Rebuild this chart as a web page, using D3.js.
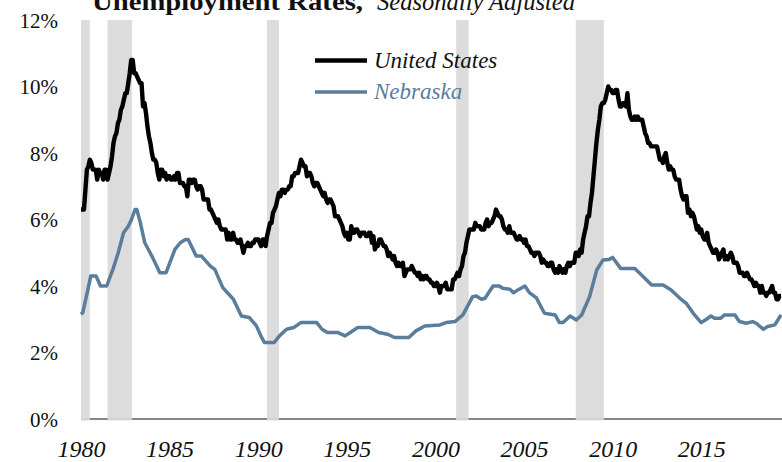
<!DOCTYPE html>
<html>
<head>
<meta charset="utf-8">
<script src="https://cdn.jsdelivr.net/npm/d3@7"></script>
<style>
  html, body { margin: 0; padding: 0; background: #fff; }
  svg { display: block; }
  svg text { font-family: "Liberation Serif", "Times New Roman", serif !important; }
</style>
</head>
<body>
<svg id="chart" width="782" height="462"></svg>
<script>
// ---------------- DATA ----------------
const titleBold = "Unemployment Rates,";
const titleItalic = "Seasonally Adjusted";
const seriesNames = ["United States", "Nebraska"];

// US monthly unemployment rate, Jan 1980 onward (seasonally adjusted, %)
const usStartYear = 1980;
const usRate = [
  6.3,6.3,6.3,6.9,7.5,7.6,7.8,7.7,7.5,7.5,7.5,7.2,
  7.5,7.4,7.4,7.2,7.5,7.5,7.2,7.4,7.6,7.9,8.3,8.5,
  8.6,8.9,9.0,9.3,9.4,9.6,9.8,9.8,10.1,10.4,10.8,10.8,
  10.4,10.4,10.3,10.2,10.1,10.1,9.4,9.5,9.2,8.8,8.5,8.3,
  8.0,7.8,7.8,7.7,7.4,7.2,7.5,7.5,7.3,7.4,7.2,7.3,
  7.3,7.2,7.2,7.3,7.2,7.4,7.4,7.1,7.1,7.1,7.0,7.0,
  6.7,7.2,7.2,7.1,7.2,7.2,7.0,6.9,7.0,7.0,6.9,6.6,
  6.6,6.6,6.6,6.3,6.3,6.2,6.1,6.0,5.9,6.0,5.8,5.7,
  5.7,5.7,5.7,5.4,5.6,5.4,5.4,5.6,5.4,5.4,5.3,5.3,
  5.4,5.2,5.0,5.2,5.2,5.3,5.2,5.2,5.3,5.3,5.4,5.4,
  5.4,5.3,5.2,5.4,5.4,5.2,5.5,5.7,5.9,5.9,6.2,6.3,
  6.4,6.6,6.8,6.7,6.9,6.9,6.8,6.9,6.9,7.0,7.0,7.3,
  7.3,7.4,7.4,7.4,7.6,7.8,7.7,7.6,7.6,7.3,7.4,7.4,
  7.3,7.1,7.0,7.1,7.1,7.0,6.9,6.8,6.7,6.8,6.6,6.5,
  6.6,6.6,6.5,6.4,6.1,6.1,6.1,6.0,5.9,5.8,5.6,5.5,
  5.6,5.4,5.4,5.8,5.6,5.6,5.7,5.7,5.6,5.5,5.6,5.6,
  5.6,5.5,5.5,5.6,5.6,5.3,5.5,5.1,5.2,5.2,5.4,5.4,
  5.3,5.2,5.2,5.1,4.9,5.0,4.9,4.8,4.9,4.7,4.6,4.7,
  4.6,4.6,4.7,4.3,4.4,4.5,4.5,4.5,4.6,4.5,4.4,4.4,
  4.3,4.4,4.2,4.3,4.2,4.3,4.3,4.2,4.2,4.1,4.1,4.0,
  4.0,4.1,4.0,3.8,4.0,4.0,4.0,4.1,3.9,3.9,3.9,3.9,
  4.2,4.2,4.3,4.4,4.3,4.5,4.6,4.9,5.0,5.3,5.5,5.7,
  5.7,5.7,5.7,5.9,5.8,5.8,5.8,5.7,5.7,5.7,5.9,6.0,
  5.8,5.9,5.9,6.0,6.1,6.3,6.2,6.1,6.1,6.0,5.8,5.7,
  5.7,5.6,5.8,5.6,5.6,5.6,5.5,5.4,5.4,5.5,5.4,5.4,
  5.3,5.4,5.2,5.2,5.1,5.0,5.0,4.9,5.0,5.0,5.0,4.9,
  4.7,4.8,4.7,4.7,4.6,4.6,4.7,4.7,4.5,4.4,4.5,4.4,
  4.6,4.5,4.4,4.5,4.4,4.6,4.7,4.6,4.7,4.7,4.7,5.0,
  5.0,4.9,5.1,5.0,5.4,5.6,5.8,6.1,6.1,6.5,6.8,7.3,
  7.8,8.3,8.7,9.0,9.4,9.5,9.5,9.6,9.8,10.0,9.9,9.9,
  9.8,9.8,9.9,9.9,9.6,9.4,9.4,9.5,9.5,9.4,9.8,9.3,
  9.1,9.0,9.0,9.1,9.0,9.1,9.0,9.0,9.0,8.8,8.6,8.5,
  8.3,8.3,8.2,8.2,8.2,8.2,8.2,8.0,7.8,7.8,7.7,7.9,
  8.0,7.7,7.5,7.6,7.5,7.5,7.3,7.2,7.2,7.2,6.9,6.7,
  6.6,6.7,6.7,6.2,6.3,6.1,6.2,6.1,5.9,5.7,5.8,5.6,
  5.7,5.5,5.4,5.4,5.6,5.3,5.2,5.1,5.0,5.0,5.1,5.0,
  4.8,4.9,5.0,5.1,4.8,4.9,4.8,4.9,5.0,4.9,4.7,4.7,
  4.7,4.6,4.4,4.4,4.4,4.3,4.3,4.4,4.3,4.2,4.2,4.1,
  4.0,4.1,4.0,4.0,3.8,4.0,3.8,3.8,3.7,3.8,3.8,3.9,
  4.0,3.8,3.8,3.6,3.6,3.7,3.7
];

// Nebraska rate (decimal year, %)
const neYear = [
  1980.0,1980.1,1980.35,1980.55,1980.85,1981.1,1981.45,1981.8,1982.1,1982.4,
  1982.67,1982.85,1983.05,1983.15,1983.35,1983.6,1984.0,1984.45,1984.8,1985.3,
  1985.6,1985.9,1986.05,1986.5,1986.8,1987.3,1987.55,1988.0,1988.6,1989.05,
  1989.5,1989.9,1990.15,1990.35,1990.9,1991.2,1991.6,1992.0,1992.4,1993.3,
  1993.6,1993.9,1994.5,1994.9,1995.2,1995.6,1996.3,1996.8,1997.3,1997.7,
  1998.5,1998.9,1999.4,2000.25,2000.6,2001.1,2001.55,2002.1,2002.3,2002.6,
  2002.8,2003.25,2003.6,2003.8,2004.2,2004.4,2004.65,2005.05,2005.3,2005.7,
  2006.15,2006.75,2007.0,2007.2,2007.6,2007.95,2008.25,2008.7,2009.1,2009.45,
  2009.8,2010.0,2010.45,2011.25,2011.5,2012.2,2012.85,2013.3,2013.8,2014.15,
  2014.55,2015.0,2015.3,2015.55,2015.75,2016.1,2016.3,2016.9,2017.15,2017.55,
  2017.9,2018.1,2018.5,2018.75,2019.15,2019.5
];
const neRate = [
  3.15,3.2,3.8,4.3,4.3,4.0,4.0,4.5,5.0,5.6,
  5.8,6.0,6.3,6.3,5.9,5.3,4.9,4.4,4.4,5.1,
  5.3,5.4,5.4,4.9,4.9,4.6,4.5,3.95,3.6,3.1,
  3.05,2.8,2.5,2.3,2.3,2.5,2.7,2.75,2.9,2.9,
  2.7,2.6,2.6,2.5,2.6,2.75,2.75,2.6,2.55,2.45,
  2.45,2.65,2.8,2.83,2.9,2.93,3.13,3.68,3.7,3.6,
  3.63,4.0,4.0,3.93,3.9,3.8,3.88,4.0,3.8,3.64,
  3.18,3.13,2.9,2.9,3.1,2.98,3.13,3.68,4.48,4.78,
  4.8,4.86,4.53,4.53,4.4,4.03,4.03,3.88,3.63,3.48,
  3.18,2.9,3.0,3.1,3.03,3.03,3.13,3.13,2.93,2.88,
  2.93,2.88,2.7,2.78,2.83,3.13
];

// NBER recessions (decimal years)
const recStart = [1980.0, 1981.5, 1990.5, 2001.17, 2007.92];
const recEnd   = [1980.5, 1982.875, 1991.17, 2001.875, 2009.5];

const yTicks = [0, 2, 4, 6, 8, 10, 12];
const xTicks = [1980, 1985, 1990, 1995, 2000, 2005, 2010, 2015];

// ---------------- DRAW ----------------
const FONT = "Liberation Serif, Times New Roman, serif";
const svg = d3.select("#chart");
const x = d3.scaleLinear().domain([1980, 2019.5]).range([81, 781]);
const y = d3.scaleLinear().domain([0, 12]).range([419, 20]);

const usData = usRate.map((v, i) => ({ t: usStartYear + i / 12, v }));
const neData = neYear.map((t, i) => ({ t, v: neRate[i] }));
const recs = recStart.map((s, i) => ({ s, e: recEnd[i] }));

// x-axis baseline
svg.append("line")
  .attr("x1", x(1980)).attr("x2", 782)
  .attr("y1", y(0)).attr("y2", y(0))
  .attr("stroke", "#868686").attr("stroke-width", 2);

// recession bands
svg.append("g").selectAll("rect").data(recs).join("rect")
  .attr("x", d => x(d.s))
  .attr("width", d => x(d.e) - x(d.s))
  .attr("y", y(12))
  .attr("height", y(0) - y(12) + 1.5)
  .attr("fill", "#d9d9d9")
  .attr("fill-opacity", 0.92);

// y axis labels
const yAxis = d3.axisLeft(y).tickValues(yTicks).tickFormat(d => d + "%").tickSize(0).tickPadding(0);
const yg = svg.append("g").attr("transform", "translate(58,0)").call(yAxis);
yg.attr("font-family", FONT);
yg.select(".domain").remove();
yg.selectAll("text")
  .attr("font-family", FONT)
  .attr("font-size", 21)
  .attr("fill", "#111")
  .attr("dy", "0.34em");

// x axis labels
const xAxis = d3.axisBottom(x).tickValues(xTicks).tickFormat(d3.format("d")).tickSize(0).tickPadding(0);
const xg = svg.append("g").attr("transform", "translate(0,438)").call(xAxis);
xg.attr("font-family", FONT);
xg.select(".domain").remove();
xg.selectAll("text")
  .attr("font-family", FONT)
  .attr("font-style", "italic")
  .attr("font-size", 24)
  .attr("fill", "#111")
  .attr("dy", "0.78em");

// lines
const line = d3.line().x(d => x(d.t)).y(d => y(d.v));
svg.append("path").datum(neData)
  .attr("d", line)
  .attr("fill", "none")
  .attr("stroke", "#5a7d9c")
  .attr("stroke-width", 3.5)
  .attr("stroke-linejoin", "round");
svg.append("path").datum(usData)
  .attr("d", line)
  .attr("fill", "none")
  .attr("stroke", "#000")
  .attr("stroke-width", 4.4)
  .attr("stroke-linejoin", "round");

// legend
const legColors = ["#000", "#5a7d9c"];
const legWidths = [4.4, 3.5];
const leg = svg.append("g").selectAll("g").data(seriesNames).join("g")
  .attr("transform", (d, i) => `translate(315,${60.5 + i * 31.5})`);
leg.append("line")
  .attr("x1", 0).attr("x2", 52)
  .attr("stroke", (d, i) => legColors[i])
  .attr("stroke-width", (d, i) => legWidths[i]);
leg.append("text")
  .attr("x", 59).attr("y", 7)
  .attr("font-family", FONT)
  .attr("font-style", "italic")
  .attr("font-size", 23)
  .attr("fill", (d, i) => i === 0 ? "#111" : "#5a7d9c")
  .text(d => d);

// title (partially cropped at the top, as in the source)
svg.append("text")
  .attr("x", 92).attr("y", 10)
  .attr("font-family", FONT)
  .attr("font-weight", "bold")
  .attr("font-size", 26)
  .attr("fill", "#111")
  .attr("textLength", 271).attr("lengthAdjust", "spacingAndGlyphs")
  .text(titleBold);
svg.append("text")
  .attr("x", 377).attr("y", 10)
  .attr("font-family", FONT)
  .attr("font-style", "italic")
  .attr("font-size", 25)
  .attr("fill", "#111")
  .attr("textLength", 198).attr("lengthAdjust", "spacingAndGlyphs")
  .text(titleItalic);
</script>
</body>
</html>
